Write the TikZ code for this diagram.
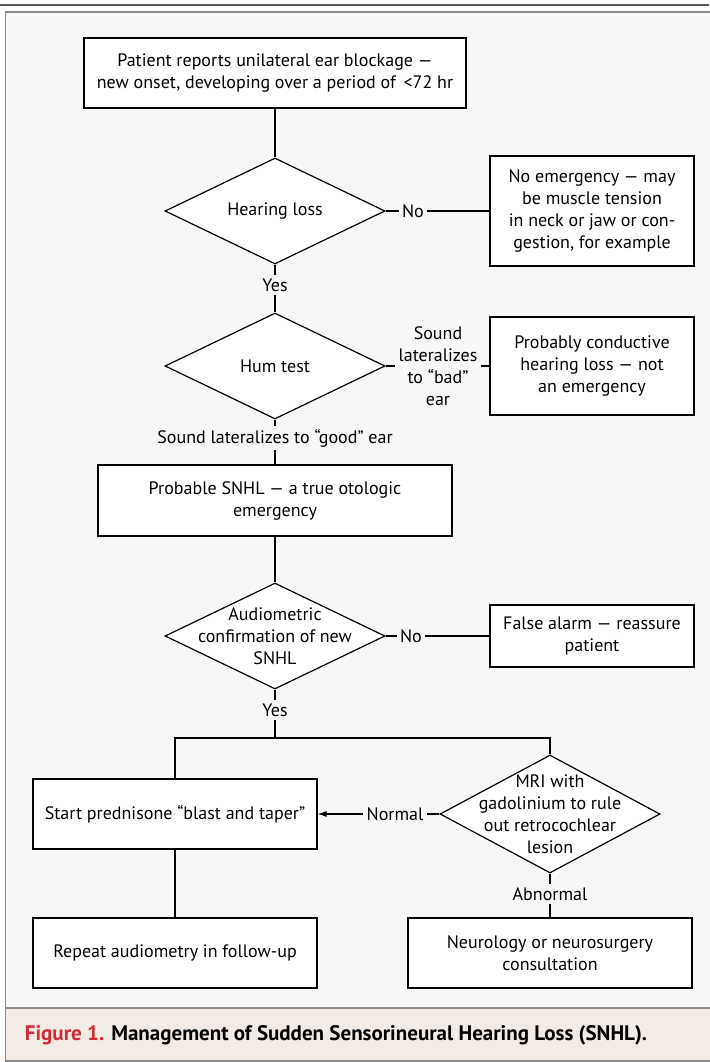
\documentclass[tikz,border=0pt]{standalone}
\usepackage{fontspec}
\setmainfont{PT Sans}
\usetikzlibrary{positioning}
\usetikzlibrary{arrows.meta}
\usetikzlibrary{shapes}
\definecolor{panelgray}{HTML}{F7F7F7}
\definecolor{framegray}{HTML}{8C8C8C}
\definecolor{rulegray}{HTML}{5A5A5A}
\definecolor{captionbg}{HTML}{F2EBE6}
\definecolor{figred}{HTML}{D42A33}
\tikzset{
        flownode/.style={align=center,inner sep=0pt,font=\fontsize{18}{22}\selectfont},
        % Action boxes
        node_box/.style={flownode, rectangle, draw=black, fill=white, line width=1.2pt},
        % Decision diamonds (text is set as a centre label)
        node_decision/.style={flownode, diamond, draw=black, fill=white, line width=1.2pt, minimum width=220pt},
        % Branch labels
        node_label/.style={flownode, inner sep=3pt}
}

\begin{document}
\begin{tikzpicture}[x=1pt, y=-1pt, line width=1.1pt]
            \useasboundingbox (0,0) rectangle (709,1062);
            % Frame
            \draw[rulegray, line width=2.5pt] (0,5) -- (709,5);
            \draw[framegray, fill=panelgray, line width=1.5pt] (5.5,12) rectangle (720,1008);
            \draw[framegray, fill=captionbg, line width=1.5pt] (5.5,1008) rectangle (720,1061);
            \node[anchor=west, font=\bfseries\fontsize{21}{24}\selectfont] (caption) at (21,1035)
                {\textcolor{figred}{Figure 1.} Management of Sudden Sensorineural Hearing Loss (SNHL).};

            % Main column
            \node[node_box, minimum width=382pt, minimum height=70pt] (onset) at (275,73)
                {Patient reports unilateral ear blockage —\\new onset, developing over a period of \,<72 hr};
            \node[node_decision, minimum height=106pt, label={[flownode]center:Hearing loss}] (hearing) at (275,211) {};
            \node[node_label] (yes1) at (275,285) {Yes};
            \node[node_decision, minimum height=106pt, label={[flownode]center:Hum test}] (hum) at (275,366) {};
            \node[node_label] (good) at (275,438) {Sound lateralizes to “good” ear};
            \node[node_box, minimum width=354pt, minimum height=71pt] (snhl) at (275,500.5)
                {Probable SNHL — a true otologic\\emergency};
            \node[node_decision, minimum height=106pt,
                  label={[flownode]center:Audiometric\\confirmation of new\\SNHL}] (audio) at (275,636) {};
            \node[node_label] (yes2) at (275,710) {Yes};
            \coordinate (split) at (275,738);

            % Side branches
            \node[node_label] (no1) at (413,211) {No};
            \node[node_box, minimum width=204pt, minimum height=110pt] (noemerg) at (592,211)
                {No emergency — may\\be muscle tension\\in neck or jaw or con-\\gestion, for example};
            \node[node_label] (bad) at (438,366) {Sound\\lateralizes\\to “bad”\\ear};
            \node[node_box, minimum width=204pt, minimum height=98pt] (conductive) at (592,366)
                {Probably conductive\\hearing loss — not\\an emergency};
            \node[node_label] (no2) at (411,636) {No};
            \node[node_box, minimum width=204pt, minimum height=62pt] (falsealarm) at (592,636)
                {False alarm — reassure\\patient};

            % Treatment
            \node[node_box, minimum width=284pt, minimum height=70pt] (pred) at (175,814)
                {Start prednisone “blast and taper”};
            \node[node_decision, minimum height=118pt,
                  label={[flownode]center:MRI with\\gadolinium to rule\\out retrocochlear\\lesion}] (mri) at (550,814) {};
            \node[node_label] (normal) at (395,814) {Normal};
            \node[node_label] (abnormal) at (550,894) {Abnormal};
            \node[node_box, minimum width=284pt, minimum height=70pt] (repeat) at (175,953)
                {Repeat audiometry in follow-up};
            \node[node_box, minimum width=284pt, minimum height=70pt] (neuro) at (550,953)
                {Neurology or neurosurgery\\consultation};

            % Connectors
            \draw (onset) -- (hearing);
            \draw (hearing) -- (yes1) -- (hum);
            \draw (hearing) -- (no1) -- (noemerg);
            \draw (hum) -- (bad) -- (conductive);
            \draw (hum) -- (good) -- (snhl);
            \draw (snhl) -- (audio);
            \draw (audio) -- (no2) -- (falsealarm);
            \draw (audio) -- (yes2) -- (split);
            \draw (pred) |- (split) -| (mri);
            \draw (mri) -- (normal);
            \draw[-{Latex[length=9pt,width=6pt]}] (normal) -- (pred);
            \draw (pred) -- (repeat);
            \draw (mri) -- (abnormal) -- (neuro);
        \end{tikzpicture}
\end{document}
